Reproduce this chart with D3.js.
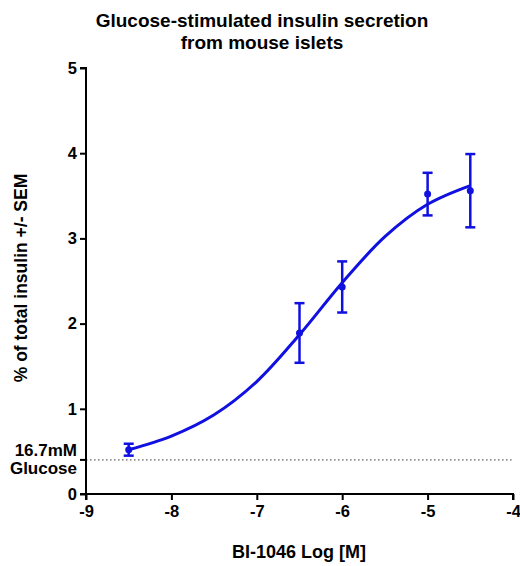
<!DOCTYPE html>
<html>
<head>
<meta charset="utf-8">
<script src="https://cdn.jsdelivr.net/npm/d3@7"></script>
<style>
  body { margin: 0; background: #fff; }
  text { font-family: "Liberation Sans", Arial, sans-serif; font-weight: bold; fill: #000; }
</style>
</head>
<body>
<div id="chart"></div>
<script>
const width = 520;
const height = 566;

// measured points (log M) with mean and SEM
const doses = [-8.5, -6.5, -6, -5, -4.5];
const means = [0.52, 1.89, 2.43, 3.52, 3.56];
const sems = [0.07, 0.35, 0.30, 0.25, 0.43];

// fitted curve
const curveX = [-8.5, -8, -7.5, -7, -6.5, -6, -5.5, -5, -4.5];
const curveY = [0.52, 0.68, 0.93, 1.32, 1.87, 2.48, 3.02, 3.40, 3.62];

const baseline = 0.4; // 16.7mM glucose
const xTicks = [-9, -8, -7, -6, -5, -4];
const yTicks = [0, 1, 2, 3, 4, 5];

const margin = {top: 68, right: 7, bottom: 72, left: 86};

const svg = d3.select("#chart")
              .append("svg")
              .attr("width", width)
              .attr("height", height);

const x = d3.scaleLinear().domain([-9, -4]).range([margin.left, width - margin.right]);
const y = d3.scaleLinear().domain([0, 5]).range([height - margin.bottom, margin.top]);

const blue = "#1010e0";
const fmt = d => String(d); // plain hyphen minus like the original

// title
svg.append("text")
   .attr("x", 262).attr("y", 27)
   .attr("text-anchor", "middle")
   .style("font-size", "19px")
   .text("Glucose-stimulated insulin secretion");
svg.append("text")
   .attr("x", 262).attr("y", 49)
   .attr("text-anchor", "middle")
   .style("font-size", "19px")
   .text("from mouse islets");

// baseline dotted
svg.append("line")
   .attr("x1", x(-9)).attr("x2", x(-4))
   .attr("y1", y(baseline)).attr("y2", y(baseline))
   .attr("stroke", "#333")
   .attr("stroke-width", 1)
   .attr("stroke-dasharray", "1.5,2.5");

// axes
const xAxis = d3.axisBottom(x).tickValues(xTicks).tickSize(6).tickPadding(5).tickFormat(fmt);
const gx = svg.append("g")
   .attr("transform", `translate(0,${y(0)})`)
   .call(xAxis);

const yAxis = d3.axisLeft(y).tickValues(yTicks).tickSize(6).tickPadding(3).tickFormat(fmt);
const gy = svg.append("g")
   .attr("transform", `translate(${x(-9)},0)`)
   .call(yAxis);

[gx, gy].forEach(g => {
    g.select(".domain").attr("stroke", "#000").attr("stroke-width", 2);
    g.selectAll(".tick line").attr("stroke", "#000").attr("stroke-width", 2);
    g.selectAll(".tick text").style("font-size", "16.5px").style("font-family", "Liberation Sans, Arial, sans-serif").style("font-weight", "bold");
});
gx.select(".domain").attr("d", `M${x(-9)},6V0H${x(-4)}V6`);
gy.select(".domain").attr("d", `M-6,${y(5)}H0V${y(0)}H-6`);

// glucose tick + label
svg.append("line")
   .attr("x1", x(-9) - 6).attr("x2", x(-9))
   .attr("y1", y(baseline)).attr("y2", y(baseline))
   .attr("stroke", "#000").attr("stroke-width", 2);
svg.append("text")
   .attr("x", x(-9) - 9).attr("y", y(baseline) - 4)
   .attr("text-anchor", "end")
   .style("font-size", "17px")
   .text("16.7mM");
svg.append("text")
   .attr("x", x(-9) - 9).attr("y", y(baseline) + 14)
   .attr("text-anchor", "end")
   .style("font-size", "17px")
   .text("Glucose");

// axis titles
svg.append("text")
   .attr("x", 299).attr("y", 558)
   .attr("text-anchor", "middle")
   .style("font-size", "18px")
   .text("BI-1046 Log [M]");
svg.append("text")
   .attr("transform", `translate(27,278) rotate(-90)`)
   .attr("text-anchor", "middle")
   .style("font-size", "17.5px")
   .text("% of total insulin +/- SEM");

// fitted curve
const line = d3.line()
    .x(d => x(d[0]))
    .y(d => y(d[1]))
    .curve(d3.curveCatmullRom);

svg.append("path")
   .datum(d3.zip(curveX, curveY))
   .attr("d", line)
   .attr("fill", "none")
   .attr("stroke", blue)
   .attr("stroke-width", 3);

// error bars
const pts = doses.map((d, i) => ({x: d, m: means[i], s: sems[i]}));
const eb = svg.append("g").attr("stroke", blue).attr("stroke-width", 2.5);
pts.forEach(p => {
    eb.append("line").attr("x1", x(p.x)).attr("x2", x(p.x))
      .attr("y1", y(p.m - p.s)).attr("y2", y(p.m + p.s));
    [p.m - p.s, p.m + p.s].forEach(v => {
        eb.append("line").attr("x1", x(p.x) - 5).attr("x2", x(p.x) + 5)
          .attr("y1", y(v)).attr("y2", y(v));
    });
});

svg.append("g")
   .selectAll("circle")
   .data(pts)
   .enter()
   .append("circle")
   .attr("cx", d => x(d.x))
   .attr("cy", d => y(d.m))
   .attr("r", 3.5)
   .attr("fill", blue);
</script>
</body>
</html>
